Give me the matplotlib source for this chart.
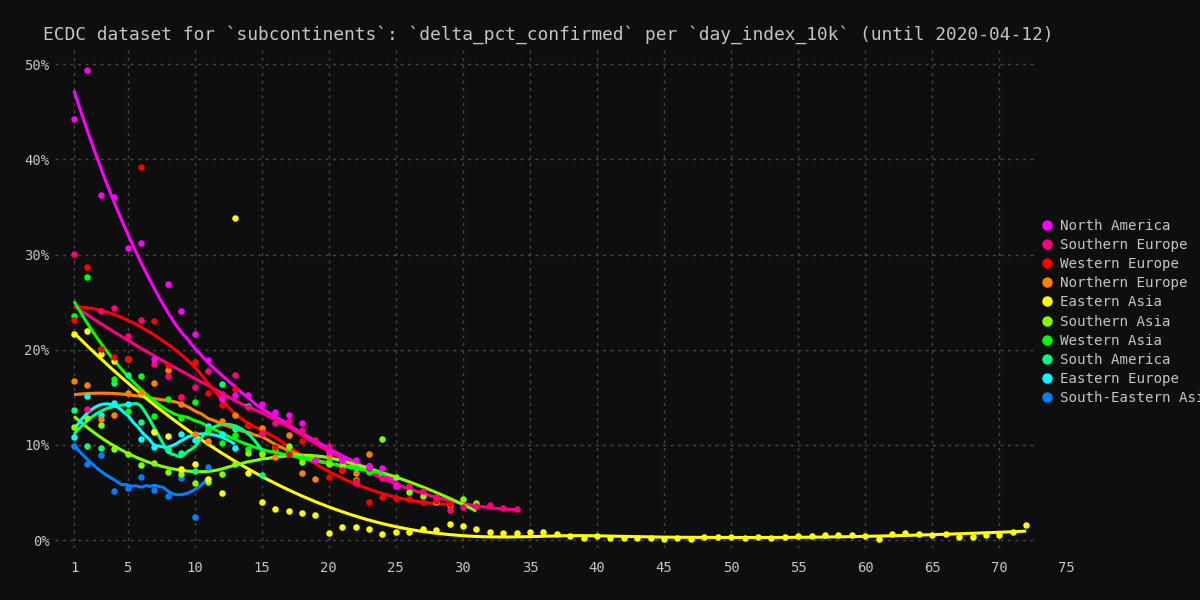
import numpy as np
import matplotlib
matplotlib.use("Agg")
import matplotlib.pyplot as plt
from matplotlib.lines import Line2D

# delta_pct_confirmed per day_index_10k (day 1, 2, 3, ...)
north_america = [44.3, 49.4, 36.3, 36.1, 30.7, 31.2, 19.0, 26.9, 24.1, 21.6, 18.9, 14.8, 15.2,
                 15.2, 14.3, 13.5, 13.1, 12.3, 8.4, 9.3, 8.4, 8.4, 7.8, 7.6, 5.7]
southern_europe = [30.1, 13.8, 24.1, 24.4, 21.4, 23.1, 18.5, 17.2, 15.0, 16.1, 17.8, 15.3, 17.3,
                   14.0, 11.2, 12.3, 12.5, 11.6, 10.5, 9.9, 8.4, 6.0, 7.6, 6.5, 5.9, 5.7, 5.1,
                   4.5, 3.2, 3.5, 3.6, 3.7, 3.4, 3.3]
western_europe = [23.1, 28.7, 20.1, 19.2, 19.0, 39.2, 23.0, 18.4, 15.0, 18.7, 15.5, 14.2, 15.9,
                  12.1, 11.2, 9.8, 9.0, 10.4, 8.4, 6.6, 7.4, 6.2, 4.0, 4.5, 4.4, 4.3, 4.0, 4.1, 3.8]
northern_europe = [16.7, 16.3, 12.7, 13.1, 15.5, 15.6, 16.5, 17.9, 14.3, 11.1, 10.4, 12.5, 13.1,
                   12.1, 11.8, 8.7, 11.0, 7.0, 6.4, 8.8, 7.4, 7.0, 9.0]
eastern_asia = [21.6, 22.0, 19.5, 18.8, 19.0, 15.4, 11.4, 10.9, 7.5, 8.0, 6.4, 4.9, 33.8, 7.0,
                4.0, 3.3, 3.0, 2.8, 2.6, 0.74, 1.37, 1.37, 1.16, 0.6, 0.84, 0.87, 1.2, 1.0, 1.68,
                1.47, 1.12, 0.87, 0.77, 0.77, 0.87, 0.8, 0.6, 0.4, 0.2, 0.4, 0.2, 0.25, 0.25, 0.2,
                0.15, 0.2, 0.15, 0.35, 0.35, 0.35, 0.25, 0.35, 0.25, 0.35, 0.4, 0.4, 0.55, 0.55,
                0.5, 0.4, 0.07, 0.6, 0.7, 0.6, 0.55, 0.6, 0.3, 0.3, 0.55, 0.55, 0.85, 1.6]
southern_asia = [11.9, 12.8, 12.1, 9.6, 9.0, 7.9, 8.1, 7.1, 6.9, 6.0, 6.1, 6.9, 8.0, 9.1, 9.0,
                 9.8, 9.9, 8.2, 8.6, 8.0, 7.9, 6.3, 7.8, 10.6, 6.6, 5.0, 4.6, 4.0, 3.7, 4.3, 3.9]
western_asia = [23.5, 27.6, 20.1, 16.9, 13.6, 17.2, 13.0, 14.8, 12.8, 14.5, 11.7, 10.2, 11.0,
                9.6, 9.1, 9.5, 9.3, 8.6, 8.6, 8.3, 7.9, 7.6, 7.2, 6.8]
south_america = [13.7, 9.9, 9.7, 16.5, 17.3, 12.4, 11.5, 9.6, 9.1, 7.3, 11.5, 16.4, 11.7, 14.1, 6.8]
eastern_europe = [10.8, 15.1, 13.1, 14.4, 14.3, 10.6, 9.8, 9.5, 11.1, 10.5, 12.0, 11.1, 9.7]
south_eastern_asia = [9.9, 8.0, 8.9, 5.1, 5.5, 6.6, 5.3, 4.6, 6.5, 2.4, 7.7]

regionen = ["North America", "Southern Europe", "Western Europe", "Northern Europe",
            "Eastern Asia", "Southern Asia", "Western Asia", "South America",
            "Eastern Europe", "South-Eastern Asia"]
verdier = [north_america, southern_europe, western_europe, northern_europe, eastern_asia,
           southern_asia, western_asia, south_america, eastern_europe, south_eastern_asia]
farger = ["#ff00ff", "#ff0080", "#ff0000", "#ff8000", "#ffff00",
          "#80ff00", "#00ff00", "#00ff80", "#00ffff", "#0080ff"]

x_ticks = [1, 5, 10, 15, 20, 25, 30, 35, 40, 45, 50, 55, 60, 65, 70, 75]
y_ticks = [0, 10, 20, 30, 40, 50]

BG = "#0e0e0e"
TXT = "#c4c4c4"
GRID = "#454545"
FONT = "DejaVu Sans Mono"


def loess(x, y, span=0.75, punkter=80):
    # lokal kvadratisk regresjon med tricube-vekter (som loess, degree=2)
    x = np.asarray(x, dtype=float)
    y = np.asarray(y, dtype=float)
    n = len(x)
    q = max(3, int(np.floor(n * span)))
    grid = np.linspace(x.min(), x.max(), punkter)
    fit = []
    for g in grid:
        d = np.abs(x - g)
        h = np.sort(d)[q - 1]
        w = np.clip(1 - (d / h) ** 3, 0, None) ** 3
        X = np.column_stack([np.ones(n), x - g, (x - g) ** 2])
        sw = np.sqrt(w)
        beta = np.linalg.lstsq(X * sw[:, None], y * sw, rcond=None)[0]
        fit.append(beta[0])
    return grid, np.array(fit)


fig = plt.figure(figsize=(12, 6), dpi=100, facecolor=BG)
ax = fig.add_axes([55 / 1200, 52 / 600, (1075 - 55) / 1200, (548 - 50) / 600])
ax.set_facecolor(BG)

x_lo, x_hi = -0.417, 75.64
ax.set_xlim(x_lo, x_hi)
ax.set_ylim(-0.84, 51.5)

# rutenett (tegnes manuelt, slutter ved x ~ 72.8)
ax.hlines(y_ticks, x_lo, 72.8, colors=GRID, linestyles=(0, (2.2, 3.2)), lw=1, zorder=0)
ax.vlines([t for t in x_ticks if t < 72], -0.84, 51.5, colors=GRID,
          linestyles=(0, (2.2, 3.2)), lw=1, zorder=0)

# glattede linjer
for navn, y, c in zip(regionen, verdier, farger):
    xs = np.arange(1, len(y) + 1)
    gx, gy = loess(xs, y)
    ax.plot(gx, gy, color=c, lw=2.2, zorder=2, solid_capstyle="butt")

# punkter (nord-amerika øverst)
for navn, y, c in list(zip(regionen, verdier, farger))[::-1]:
    xs = np.arange(1, len(y) + 1)
    ax.scatter(xs, y, s=22, color=c, linewidths=0, zorder=3)

for s in ax.spines.values():
    s.set_visible(False)
ax.set_xticks(x_ticks)
ax.set_xticklabels([str(t) for t in x_ticks])
ax.set_yticks(y_ticks)
ax.set_yticklabels([f"{t}%" for t in y_ticks])
ax.tick_params(length=0, colors=TXT, labelsize=10)
ax.tick_params(axis="x", pad=9)
ax.tick_params(axis="y", pad=4)
for lab in ax.get_xticklabels() + ax.get_yticklabels():
    lab.set_family(FONT)

fig.text(43 / 1200, 1 - 35 / 600,
         "ECDC dataset for `subcontinents`: `delta_pct_confirmed` per `day_index_10k` (until 2020-04-12)",
         color=TXT, fontsize=12.9, family=FONT, va="center", ha="left")

handles = [Line2D([], [], ls="none", marker="o", ms=6.5, mfc=c, mec=c) for c in farger]
fig.legend(handles, regionen, loc="upper left", bbox_to_anchor=(1040 / 1200, 1 - 219 / 600),
           frameon=False, prop={"family": FONT, "size": 10.2}, labelcolor=TXT,
           handlelength=1.0, handletextpad=0.4, labelspacing=0.36, borderaxespad=0,
           borderpad=0)

fig.savefig("out.png", dpi=100, facecolor=BG)
